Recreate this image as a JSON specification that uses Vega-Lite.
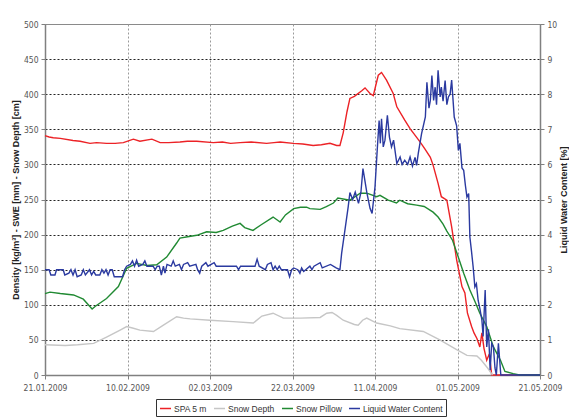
{
  "$schema": "https://vega.github.io/schema/vega-lite/v6.json",
  "width": 495,
  "height": 351,
  "autosize": {"type": "none"},
  "padding": {"left": 45, "top": 24, "right": 29, "bottom": 44},
  "background": "white",
  "config": {
    "font": "Liberation Sans",
    "view": {"stroke": "#8a8a8a", "strokeWidth": 1},
    "axis": {
      "labelFont": "Liberation Sans Narrow, DejaVu Sans Condensed, sans-serif",
      "labelFontSize": 8.5,
      "labelColor": "#555555",
      "domainColor": "#808080",
      "domainWidth": 1.5,
      "tickColor": "#808080",
      "tickSize": 4,
      "titleFont": "Liberation Sans",
      "titleFontSize": 9,
      "titleFontWeight": "bold",
      "titleColor": "#222222"
    },
    "legend": {
      "labelFont": "Liberation Sans",
      "labelFontSize": 8.5,
      "labelColor": "#333333"
    }
  },
  "datasets": {
    "spa": [
      {"t": "2009-01-21T00:00", "v": 341}, {"t": "2009-01-22T00:00", "v": 339}, {"t": "2009-01-23T00:00", "v": 338},
      {"t": "2009-01-24T17:00", "v": 337}, {"t": "2009-01-27T19:00", "v": 334}, {"t": "2009-01-29T12:00", "v": 333},
      {"t": "2009-01-31T22:00", "v": 330}, {"t": "2009-02-02T12:00", "v": 331}, {"t": "2009-02-04T22:00", "v": 330},
      {"t": "2009-02-07T00:00", "v": 330}, {"t": "2009-02-09T00:00", "v": 331}, {"t": "2009-02-11T10:00", "v": 336},
      {"t": "2009-02-13T00:00", "v": 333}, {"t": "2009-02-15T22:00", "v": 336}, {"t": "2009-02-17T22:00", "v": 331},
      {"t": "2009-02-20T00:00", "v": 331}, {"t": "2009-02-22T17:00", "v": 332}, {"t": "2009-02-24T12:00", "v": 333},
      {"t": "2009-02-26T19:00", "v": 333}, {"t": "2009-03-02T19:00", "v": 331}, {"t": "2009-03-05T00:00", "v": 332},
      {"t": "2009-03-07T00:00", "v": 330}, {"t": "2009-03-09T07:00", "v": 331}, {"t": "2009-03-12T00:00", "v": 332},
      {"t": "2009-03-15T17:00", "v": 330}, {"t": "2009-03-17T12:00", "v": 331}, {"t": "2009-03-19T00:00", "v": 332},
      {"t": "2009-03-22T05:00", "v": 330}, {"t": "2009-03-24T12:00", "v": 329}, {"t": "2009-03-27T00:00", "v": 327},
      {"t": "2009-03-29T00:00", "v": 328}, {"t": "2009-03-31T02:00", "v": 330}, {"t": "2009-04-01T17:00", "v": 327},
      {"t": "2009-04-02T12:00", "v": 327}, {"t": "2009-04-03T07:00", "v": 345}, {"t": "2009-04-04T05:00", "v": 375},
      {"t": "2009-04-04T22:00", "v": 394}, {"t": "2009-04-06T00:00", "v": 397}, {"t": "2009-04-07T19:00", "v": 405},
      {"t": "2009-04-08T14:00", "v": 409}, {"t": "2009-04-09T19:00", "v": 401}, {"t": "2009-04-10T14:00", "v": 398},
      {"t": "2009-04-11T19:00", "v": 427}, {"t": "2009-04-12T14:00", "v": 431}, {"t": "2009-04-13T19:00", "v": 420},
      {"t": "2009-04-15T10:00", "v": 401}, {"t": "2009-04-16T07:00", "v": 382}, {"t": "2009-04-18T05:00", "v": 363},
      {"t": "2009-04-19T12:00", "v": 351}, {"t": "2009-04-21T22:00", "v": 332}, {"t": "2009-04-23T02:00", "v": 322},
      {"t": "2009-04-24T10:00", "v": 310}, {"t": "2009-04-25T02:00", "v": 299}, {"t": "2009-04-26T07:00", "v": 273},
      {"t": "2009-04-27T02:00", "v": 254}, {"t": "2009-04-28T10:00", "v": 249}, {"t": "2009-04-29T14:00", "v": 211},
      {"t": "2009-04-30T19:00", "v": 164}, {"t": "2009-05-02T02:00", "v": 126}, {"t": "2009-05-02T19:00", "v": 117},
      {"t": "2009-05-03T10:00", "v": 88}, {"t": "2009-05-04T10:00", "v": 69}, {"t": "2009-05-05T00:00", "v": 60},
      {"t": "2009-05-05T17:00", "v": 52}, {"t": "2009-05-06T10:00", "v": 40}, {"t": "2009-05-06T22:00", "v": 60},
      {"t": "2009-05-07T10:00", "v": 38}, {"t": "2009-05-08T02:00", "v": 21}, {"t": "2009-05-08T17:00", "v": 30},
      {"t": "2009-05-09T07:00", "v": 0}, {"t": "2009-05-21T00:00", "v": 0}
    ],
    "depth": [
      {"t": "2009-01-21T00:00", "v": 43}, {"t": "2009-01-25T22:00", "v": 42}, {"t": "2009-01-28T22:00", "v": 43},
      {"t": "2009-02-01T19:00", "v": 45}, {"t": "2009-02-04T22:00", "v": 54}, {"t": "2009-02-08T05:00", "v": 64},
      {"t": "2009-02-09T19:00", "v": 69}, {"t": "2009-02-11T05:00", "v": 67}, {"t": "2009-02-13T00:00", "v": 64},
      {"t": "2009-02-16T07:00", "v": 62}, {"t": "2009-02-18T17:00", "v": 71}, {"t": "2009-02-21T22:00", "v": 83},
      {"t": "2009-02-23T14:00", "v": 81}, {"t": "2009-02-25T05:00", "v": 80}, {"t": "2009-03-02T00:00", "v": 78},
      {"t": "2009-03-07T14:00", "v": 76}, {"t": "2009-03-12T12:00", "v": 74}, {"t": "2009-03-14T14:00", "v": 84},
      {"t": "2009-03-17T07:00", "v": 88}, {"t": "2009-03-19T19:00", "v": 81}, {"t": "2009-03-23T22:00", "v": 81},
      {"t": "2009-03-28T17:00", "v": 82}, {"t": "2009-03-30T07:00", "v": 88}, {"t": "2009-03-31T14:00", "v": 89},
      {"t": "2009-04-01T17:00", "v": 85}, {"t": "2009-04-03T07:00", "v": 78}, {"t": "2009-04-06T00:00", "v": 72},
      {"t": "2009-04-06T22:00", "v": 71}, {"t": "2009-04-08T00:00", "v": 78}, {"t": "2009-04-09T00:00", "v": 81},
      {"t": "2009-04-11T10:00", "v": 74}, {"t": "2009-04-14T17:00", "v": 70}, {"t": "2009-04-17T00:00", "v": 66},
      {"t": "2009-04-22T17:00", "v": 62}, {"t": "2009-04-26T17:00", "v": 50}, {"t": "2009-04-30T19:00", "v": 36},
      {"t": "2009-05-03T07:00", "v": 28}, {"t": "2009-05-05T17:00", "v": 27}, {"t": "2009-05-06T19:00", "v": 21},
      {"t": "2009-05-08T07:00", "v": 10}, {"t": "2009-05-09T12:00", "v": 0}
    ],
    "pillow": [
      {"t": "2009-01-21T00:00", "v": 116}, {"t": "2009-01-22T05:00", "v": 118}, {"t": "2009-01-24T17:00", "v": 116},
      {"t": "2009-01-27T22:00", "v": 114}, {"t": "2009-01-30T07:00", "v": 108}, {"t": "2009-01-31T12:00", "v": 100},
      {"t": "2009-02-01T10:00", "v": 94}, {"t": "2009-02-02T05:00", "v": 98}, {"t": "2009-02-04T22:00", "v": 109},
      {"t": "2009-02-07T19:00", "v": 126}, {"t": "2009-02-09T19:00", "v": 152}, {"t": "2009-02-12T05:00", "v": 159},
      {"t": "2009-02-14T17:00", "v": 156}, {"t": "2009-02-17T02:00", "v": 157}, {"t": "2009-02-19T12:00", "v": 168},
      {"t": "2009-02-21T22:00", "v": 188}, {"t": "2009-02-22T17:00", "v": 195}, {"t": "2009-02-24T14:00", "v": 197},
      {"t": "2009-02-26T19:00", "v": 199}, {"t": "2009-03-01T05:00", "v": 204}, {"t": "2009-03-03T12:00", "v": 203},
      {"t": "2009-03-05T05:00", "v": 206}, {"t": "2009-03-07T10:00", "v": 212}, {"t": "2009-03-09T07:00", "v": 216},
      {"t": "2009-03-10T10:00", "v": 210}, {"t": "2009-03-12T10:00", "v": 206}, {"t": "2009-03-14T10:00", "v": 214},
      {"t": "2009-03-17T07:00", "v": 225}, {"t": "2009-03-19T00:00", "v": 218}, {"t": "2009-03-20T07:00", "v": 228},
      {"t": "2009-03-22T07:00", "v": 237}, {"t": "2009-03-23T22:00", "v": 239}, {"t": "2009-03-25T10:00", "v": 239},
      {"t": "2009-03-26T05:00", "v": 237}, {"t": "2009-03-28T17:00", "v": 236}, {"t": "2009-03-30T05:00", "v": 240},
      {"t": "2009-03-31T22:00", "v": 245}, {"t": "2009-04-02T00:00", "v": 252}, {"t": "2009-04-04T22:00", "v": 249},
      {"t": "2009-04-07T10:00", "v": 259}, {"t": "2009-04-09T00:00", "v": 259}, {"t": "2009-04-11T10:00", "v": 254},
      {"t": "2009-04-12T05:00", "v": 256}, {"t": "2009-04-14T05:00", "v": 249}, {"t": "2009-04-16T05:00", "v": 245},
      {"t": "2009-04-17T00:00", "v": 249}, {"t": "2009-04-18T22:00", "v": 244}, {"t": "2009-04-21T02:00", "v": 242},
      {"t": "2009-04-22T22:00", "v": 240}, {"t": "2009-04-25T02:00", "v": 232}, {"t": "2009-04-26T07:00", "v": 225},
      {"t": "2009-04-27T12:00", "v": 215}, {"t": "2009-04-28T10:00", "v": 205}, {"t": "2009-04-29T19:00", "v": 192},
      {"t": "2009-04-30T19:00", "v": 175}, {"t": "2009-05-02T12:00", "v": 145}, {"t": "2009-05-04T00:00", "v": 121},
      {"t": "2009-05-05T05:00", "v": 105}, {"t": "2009-05-06T10:00", "v": 88}, {"t": "2009-05-08T02:00", "v": 69},
      {"t": "2009-05-09T17:00", "v": 40}, {"t": "2009-05-11T10:00", "v": 21}, {"t": "2009-05-12T12:00", "v": 5},
      {"t": "2009-05-14T12:00", "v": 2}, {"t": "2009-05-16T00:00", "v": 0}, {"t": "2009-05-21T00:00", "v": 0}
    ],
    "lwc": [
      {"t": "2009-01-21T00:00", "v": 3.0}, {"t": "2009-01-22T00:00", "v": 3.0}, {"t": "2009-01-22T10:00", "v": 2.85},
      {"t": "2009-01-23T10:00", "v": 2.85}, {"t": "2009-01-23T19:00", "v": 3.0}, {"t": "2009-01-25T10:00", "v": 3.0},
      {"t": "2009-01-25T19:00", "v": 2.85}, {"t": "2009-01-26T19:00", "v": 2.9}, {"t": "2009-01-27T07:00", "v": 3.0},
      {"t": "2009-01-27T19:00", "v": 2.85}, {"t": "2009-01-28T07:00", "v": 3.0}, {"t": "2009-01-28T19:00", "v": 2.8},
      {"t": "2009-01-29T19:00", "v": 2.85}, {"t": "2009-01-30T07:00", "v": 3.0}, {"t": "2009-01-30T19:00", "v": 2.85},
      {"t": "2009-01-31T19:00", "v": 3.0}, {"t": "2009-02-01T07:00", "v": 2.85}, {"t": "2009-02-01T19:00", "v": 2.95},
      {"t": "2009-02-02T07:00", "v": 2.85}, {"t": "2009-02-03T07:00", "v": 2.85}, {"t": "2009-02-03T19:00", "v": 3.0},
      {"t": "2009-02-04T07:00", "v": 2.9}, {"t": "2009-02-04T19:00", "v": 3.0}, {"t": "2009-02-05T07:00", "v": 2.85},
      {"t": "2009-02-05T19:00", "v": 3.0}, {"t": "2009-02-06T07:00", "v": 3.0}, {"t": "2009-02-06T19:00", "v": 2.8},
      {"t": "2009-02-08T19:00", "v": 2.8}, {"t": "2009-02-09T07:00", "v": 3.0}, {"t": "2009-02-09T19:00", "v": 3.1},
      {"t": "2009-02-10T17:00", "v": 3.15}, {"t": "2009-02-11T05:00", "v": 3.25}, {"t": "2009-02-11T17:00", "v": 3.1},
      {"t": "2009-02-12T05:00", "v": 3.27}, {"t": "2009-02-12T17:00", "v": 3.1}, {"t": "2009-02-13T17:00", "v": 3.15},
      {"t": "2009-02-14T05:00", "v": 3.25}, {"t": "2009-02-14T17:00", "v": 3.1}, {"t": "2009-02-16T05:00", "v": 3.1},
      {"t": "2009-02-16T17:00", "v": 3.0}, {"t": "2009-02-17T05:00", "v": 3.1}, {"t": "2009-02-17T17:00", "v": 3.1},
      {"t": "2009-02-18T05:00", "v": 2.85}, {"t": "2009-02-18T17:00", "v": 3.1}, {"t": "2009-02-19T02:00", "v": 2.9},
      {"t": "2009-02-19T14:00", "v": 3.15}, {"t": "2009-02-20T14:00", "v": 3.1}, {"t": "2009-02-21T02:00", "v": 3.25},
      {"t": "2009-02-21T14:00", "v": 3.1}, {"t": "2009-02-22T14:00", "v": 3.15}, {"t": "2009-02-23T02:00", "v": 3.0},
      {"t": "2009-02-23T14:00", "v": 3.15}, {"t": "2009-02-24T14:00", "v": 3.2}, {"t": "2009-02-25T02:00", "v": 3.1},
      {"t": "2009-02-26T14:00", "v": 3.15}, {"t": "2009-02-27T00:00", "v": 3.0}, {"t": "2009-02-27T12:00", "v": 2.9},
      {"t": "2009-02-28T00:00", "v": 3.1}, {"t": "2009-03-01T00:00", "v": 3.2}, {"t": "2009-03-01T12:00", "v": 3.1},
      {"t": "2009-03-03T00:00", "v": 3.2}, {"t": "2009-03-03T12:00", "v": 3.1}, {"t": "2009-03-08T10:00", "v": 3.1},
      {"t": "2009-03-08T22:00", "v": 3.0}, {"t": "2009-03-09T10:00", "v": 3.1}, {"t": "2009-03-12T22:00", "v": 3.1},
      {"t": "2009-03-13T10:00", "v": 3.3}, {"t": "2009-03-13T22:00", "v": 3.1}, {"t": "2009-03-15T10:00", "v": 3.0},
      {"t": "2009-03-15T22:00", "v": 3.15}, {"t": "2009-03-16T19:00", "v": 3.2}, {"t": "2009-03-17T07:00", "v": 3.0},
      {"t": "2009-03-17T19:00", "v": 3.1}, {"t": "2009-03-18T07:00", "v": 3.0}, {"t": "2009-03-18T19:00", "v": 3.1},
      {"t": "2009-03-19T07:00", "v": 3.0}, {"t": "2009-03-20T19:00", "v": 3.0}, {"t": "2009-03-21T07:00", "v": 2.8},
      {"t": "2009-03-21T19:00", "v": 3.0}, {"t": "2009-03-22T07:00", "v": 3.05}, {"t": "2009-03-23T07:00", "v": 3.0},
      {"t": "2009-03-23T19:00", "v": 2.9}, {"t": "2009-03-24T05:00", "v": 3.05}, {"t": "2009-03-24T17:00", "v": 2.95},
      {"t": "2009-03-25T05:00", "v": 3.0}, {"t": "2009-03-26T05:00", "v": 3.1}, {"t": "2009-03-26T17:00", "v": 3.0},
      {"t": "2009-03-27T05:00", "v": 3.1}, {"t": "2009-03-28T17:00", "v": 3.2}, {"t": "2009-03-29T05:00", "v": 3.05},
      {"t": "2009-03-31T05:00", "v": 3.15}, {"t": "2009-04-01T14:00", "v": 3.05}, {"t": "2009-04-02T12:00", "v": 3.0},
      {"t": "2009-04-02T22:00", "v": 3.47}, {"t": "2009-04-03T17:00", "v": 4.13}, {"t": "2009-04-04T12:00", "v": 4.79},
      {"t": "2009-04-04T22:00", "v": 5.2}, {"t": "2009-04-05T14:00", "v": 5.0}, {"t": "2009-04-06T05:00", "v": 5.21},
      {"t": "2009-04-07T00:00", "v": 4.89}, {"t": "2009-04-07T14:00", "v": 5.2}, {"t": "2009-04-08T02:00", "v": 5.88},
      {"t": "2009-04-09T00:00", "v": 5.21}, {"t": "2009-04-09T19:00", "v": 4.75}, {"t": "2009-04-10T07:00", "v": 4.6},
      {"t": "2009-04-11T00:00", "v": 5.36}, {"t": "2009-04-11T14:00", "v": 6.5}, {"t": "2009-04-12T00:00", "v": 7.25},
      {"t": "2009-04-12T07:00", "v": 6.6}, {"t": "2009-04-12T14:00", "v": 7.3}, {"t": "2009-04-13T00:00", "v": 6.5},
      {"t": "2009-04-13T10:00", "v": 6.69}, {"t": "2009-04-14T00:00", "v": 7.4}, {"t": "2009-04-14T12:00", "v": 6.78},
      {"t": "2009-04-15T00:00", "v": 6.5}, {"t": "2009-04-15T12:00", "v": 6.69}, {"t": "2009-04-16T07:00", "v": 6.02},
      {"t": "2009-04-17T02:00", "v": 6.21}, {"t": "2009-04-17T14:00", "v": 6.0}, {"t": "2009-04-18T05:00", "v": 6.12},
      {"t": "2009-04-18T22:00", "v": 6.0}, {"t": "2009-04-19T12:00", "v": 6.21}, {"t": "2009-04-20T02:00", "v": 5.95},
      {"t": "2009-04-20T17:00", "v": 6.2}, {"t": "2009-04-21T02:00", "v": 5.97}, {"t": "2009-04-21T12:00", "v": 6.32},
      {"t": "2009-04-22T07:00", "v": 6.88}, {"t": "2009-04-23T05:00", "v": 7.35}, {"t": "2009-04-23T14:00", "v": 8.34},
      {"t": "2009-04-24T02:00", "v": 7.6}, {"t": "2009-04-24T10:00", "v": 7.82}, {"t": "2009-04-24T19:00", "v": 8.53},
      {"t": "2009-04-25T05:00", "v": 7.82}, {"t": "2009-04-25T14:00", "v": 8.2}, {"t": "2009-04-25T22:00", "v": 7.7},
      {"t": "2009-04-26T07:00", "v": 8.68}, {"t": "2009-04-26T19:00", "v": 7.92}, {"t": "2009-04-27T02:00", "v": 8.2},
      {"t": "2009-04-27T12:00", "v": 7.8}, {"t": "2009-04-28T00:00", "v": 8.39}, {"t": "2009-04-28T10:00", "v": 7.7},
      {"t": "2009-04-28T19:00", "v": 7.92}, {"t": "2009-04-29T05:00", "v": 8.0}, {"t": "2009-04-29T14:00", "v": 8.4},
      {"t": "2009-04-30T05:00", "v": 7.35}, {"t": "2009-04-30T19:00", "v": 7.1}, {"t": "2009-05-01T05:00", "v": 6.4},
      {"t": "2009-05-01T14:00", "v": 6.6}, {"t": "2009-05-02T02:00", "v": 5.9}, {"t": "2009-05-02T12:00", "v": 5.83},
      {"t": "2009-05-02T22:00", "v": 5.4}, {"t": "2009-05-03T07:00", "v": 5.07}, {"t": "2009-05-03T17:00", "v": 5.17},
      {"t": "2009-05-04T00:00", "v": 3.93}, {"t": "2009-05-04T10:00", "v": 3.5}, {"t": "2009-05-04T19:00", "v": 3.08},
      {"t": "2009-05-05T05:00", "v": 2.51}, {"t": "2009-05-05T14:00", "v": 2.6}, {"t": "2009-05-06T00:00", "v": 2.13},
      {"t": "2009-05-06T10:00", "v": 1.9}, {"t": "2009-05-06T22:00", "v": 1.56}, {"t": "2009-05-07T05:00", "v": 1.1},
      {"t": "2009-05-07T17:00", "v": 2.42}, {"t": "2009-05-08T02:00", "v": 0.8}, {"t": "2009-05-08T12:00", "v": 1.3},
      {"t": "2009-05-08T22:00", "v": 0.14}, {"t": "2009-05-09T07:00", "v": 0.9}, {"t": "2009-05-09T17:00", "v": 0.8},
      {"t": "2009-05-10T02:00", "v": 0.2}, {"t": "2009-05-10T10:00", "v": 0.0}, {"t": "2009-05-10T22:00", "v": 0.9},
      {"t": "2009-05-11T12:00", "v": 0.0}, {"t": "2009-05-21T00:00", "v": 0.0}
    ]
  },
  "encoding": {
    "x": {
      "field": "t",
      "type": "temporal",
      "scale": {"domain": [{"year": 2009, "month": 1, "date": 21}, {"year": 2009, "month": 5, "date": 21}]},
      "axis": {
        "title": null,
        "format": "%d.%m.%Y",
        "values": [
          {"year": 2009, "month": 1, "date": 21}, {"year": 2009, "month": 2, "date": 10},
          {"year": 2009, "month": 3, "date": 2}, {"year": 2009, "month": 3, "date": 22},
          {"year": 2009, "month": 4, "date": 11}, {"year": 2009, "month": 5, "date": 1},
          {"year": 2009, "month": 5, "date": 21}
        ],
        "grid": true,
        "gridColor": "#9a9a9a",
        "gridDash": [2, 2],
        "labelPadding": 4,
        "labelFlush": false,
        "labelOverlap": false
      }
    }
  },
  "layer": [
    {
      "encoding": {
        "y": {
          "field": "v",
          "type": "quantitative",
          "scale": {"domain": [0, 500], "nice": false},
          "axis": {
            "title": "Density [kg/m³] - SWE [mm] - Snow Depth [cm]",
            "values": [0, 50, 100, 150, 200, 250, 300, 350, 400, 450, 500],
            "grid": true,
            "gridColor": "#222222",
            "gridDash": [2, 2],
            "gridOpacity": {"condition": {"test": "datum.value === 0 || datum.value === 500", "value": 0}, "value": 1},
            "labelPadding": 3,
            "titlePadding": 3
          }
        }
      },
      "layer": [
        {
          "data": {"name": "spa"},
          "mark": {"type": "line", "strokeWidth": 1.4},
          "encoding": {
            "color": {
              "datum": "SPA 5 m",
              "scale": {"domain": ["SPA 5 m", "Snow Depth", "Snow Pillow", "Liquid Water Content"], "range": ["#ec2226", "#c6c6c6", "#218a33", "#2b3aa0"]},
              "legend": {
                "title": null,
                "orient": "none",
                "legendX": 111,
                "legendY": 375,
                "direction": "horizontal",
                "columns": 4,
                "strokeColor": "#333333",
                "fillColor": "white",
                "padding": 3,
                "symbolType": "stroke",
                "symbolStrokeWidth": 1.5,
                "symbolSize": 121,
                "labelOffset": 2,
                "columnPadding": 4
              }
            }
          }
        },
        {
          "data": {"name": "depth"},
          "mark": {"type": "line", "strokeWidth": 1.4},
          "encoding": {
            "color": {
              "datum": "Snow Depth",
              "scale": {"domain": ["SPA 5 m", "Snow Depth", "Snow Pillow", "Liquid Water Content"], "range": ["#ec2226", "#c6c6c6", "#218a33", "#2b3aa0"]}
            }
          }
        },
        {
          "data": {"name": "pillow"},
          "mark": {"type": "line", "strokeWidth": 1.4},
          "encoding": {
            "color": {
              "datum": "Snow Pillow",
              "scale": {"domain": ["SPA 5 m", "Snow Depth", "Snow Pillow", "Liquid Water Content"], "range": ["#ec2226", "#c6c6c6", "#218a33", "#2b3aa0"]}
            }
          }
        }
      ]
    },
    {
      "data": {"name": "lwc"},
      "mark": {"type": "line", "strokeWidth": 1.4},
      "encoding": {
        "y": {
          "field": "v",
          "type": "quantitative",
          "scale": {"domain": [0, 10], "nice": false},
          "axis": {
            "orient": "right",
            "title": "Liquid Water Content [%]",
            "titleAngle": 270,
            "titleBaseline": "top",
            "values": [0, 1, 2, 3, 4, 5, 6, 7, 8, 9, 10],
            "grid": false,
            "labelPadding": 3,
            "titlePadding": 3
          }
        },
        "color": {
          "datum": "Liquid Water Content",
          "scale": {"domain": ["SPA 5 m", "Snow Depth", "Snow Pillow", "Liquid Water Content"], "range": ["#ec2226", "#c6c6c6", "#218a33", "#2b3aa0"]}
        }
      }
    }
  ],
  "resolve": {"scale": {"y": "independent"}}
}
